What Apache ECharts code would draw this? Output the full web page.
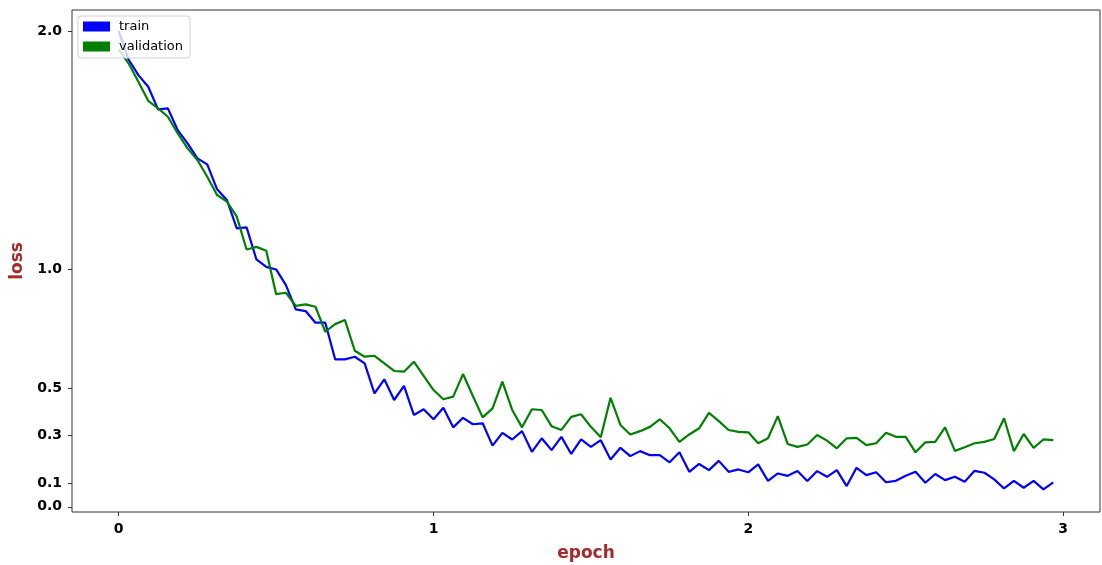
<!DOCTYPE html>
<html>
<head>
<meta charset="utf-8">
<script src="https://cdn.jsdelivr.net/npm/echarts@6/dist/echarts.min.js"></script>
<style>
  html, body { margin: 0; padding: 0; background: #fff; }
  #chart { width: 1102px; height: 565px; }
</style>
</head>
<body>
<div id="chart"></div>
<script>
// 32 steps per epoch, 3 epochs
var stepsPerEpoch = 32;
var trainLoss = [
    2.000, 1.881, 1.815, 1.766, 1.671, 1.675, 1.584, 1.528, 1.465, 1.440,
    1.335, 1.290, 1.171, 1.175, 1.040, 1.009, 0.998, 0.932, 0.830, 0.823,
    0.774, 0.774, 0.620, 0.620, 0.631, 0.603, 0.477, 0.536, 0.449, 0.508,
    0.386, 0.410, 0.368, 0.416, 0.334, 0.374, 0.347, 0.351, 0.257, 0.311,
    0.283, 0.318, 0.231, 0.288, 0.238, 0.294, 0.222, 0.283, 0.252, 0.280,
    0.199, 0.248, 0.213, 0.234, 0.217, 0.217, 0.187, 0.229, 0.147, 0.180,
    0.154, 0.193, 0.147, 0.157, 0.145, 0.178, 0.109, 0.140, 0.130, 0.150,
    0.108, 0.150, 0.126, 0.154, 0.087, 0.164, 0.133, 0.145, 0.103, 0.109,
    0.130, 0.147, 0.101, 0.138, 0.112, 0.126, 0.105, 0.151, 0.143, 0.115,
    0.077, 0.109, 0.080, 0.109, 0.073, 0.103
];
var valLoss = [
    1.923, 1.865, 1.787, 1.707, 1.675, 1.640, 1.570, 1.507, 1.458, 1.388,
    1.311, 1.283, 1.220, 1.082, 1.093, 1.077, 0.894, 0.900, 0.845, 0.851,
    0.841, 0.736, 0.768, 0.785, 0.656, 0.631, 0.635, 0.603, 0.571, 0.568,
    0.610, 0.550, 0.491, 0.452, 0.463, 0.558, 0.466, 0.376, 0.414, 0.526,
    0.407, 0.334, 0.410, 0.407, 0.339, 0.323, 0.378, 0.389, 0.336, 0.292,
    0.458, 0.344, 0.304, 0.318, 0.336, 0.368, 0.330, 0.273, 0.304, 0.330,
    0.395, 0.360, 0.323, 0.315, 0.313, 0.267, 0.288, 0.381, 0.264, 0.252,
    0.262, 0.302, 0.278, 0.246, 0.288, 0.290, 0.259, 0.267, 0.311, 0.294,
    0.294, 0.229, 0.271, 0.273, 0.334, 0.235, 0.250, 0.267, 0.273, 0.285,
    0.372, 0.234, 0.306, 0.248, 0.283, 0.280
];
var xTicks = [0, 1, 2, 3];
var yTicks = [0.0, 0.1, 0.3, 0.5, 1.0, 2.0];

function toPoints(arr) {
    var out = [];
    for (var i = 0; i < arr.length; i++) {
        out.push([i / stepsPerEpoch, arr[i]]);
    }
    return out;
}

var myChart = echarts.init(document.getElementById('chart'), null, {renderer: 'canvas'});
var tickLabel = {
    fontFamily: 'DejaVu Sans',
    fontWeight: 'bold',
    fontSize: 14,
    color: '#000'
};
var option = {
    animation: false,
    backgroundColor: '#fff',
    grid: {
        left: 72, top: 10, right: 2, bottom: 53,
        outerBoundsMode: 'none',
        containLabel: false,
        show: true, borderColor: '#333', borderWidth: 1, backgroundColor: '#fff'
    },
    legend: {
        orient: 'vertical',
        left: 78, top: 16,
        padding: [4, 7, 5, 5],
        itemWidth: 27, itemHeight: 10, itemGap: 7,
        backgroundColor: 'rgba(255,255,255,0.8)',
        borderColor: '#d0d0d0', borderWidth: 1, borderRadius: 3,
        textStyle: {fontFamily: 'DejaVu Sans', fontSize: 13, color: '#000', padding: [0, 0, 0, 4]},
        data: [
            {name: 'train', icon: 'rect', itemStyle: {color: '#0000ff'}},
            {name: 'validation', icon: 'rect', itemStyle: {color: '#008000'}}
        ]
    },
    xAxis: {
        type: 'value',
        min: -0.1484, max: 3.1172,
        name: 'epoch', nameLocation: 'middle', nameGap: 33,
        nameTextStyle: {fontFamily: 'DejaVu Sans', fontWeight: 'bold', fontSize: 17, color: '#a52a2a'},
        axisLine: {show: false, onZero: false},
        axisTick: {show: true, length: 4, lineStyle: {color: '#333'}, customValues: xTicks},
        axisLabel: Object.assign({margin: 10, customValues: xTicks}, tickLabel),
        splitLine: {show: false}
    },
    yAxis: {
        type: 'value',
        min: -0.022, max: 2.089,
        name: 'loss', nameLocation: 'middle', nameGap: 44, nameRotate: 90,
        nameTextStyle: {fontFamily: 'DejaVu Sans', fontWeight: 'bold', fontSize: 17, color: '#a52a2a'},
        axisLine: {show: false, onZero: false},
        axisTick: {show: true, length: 4, lineStyle: {color: '#333'}, customValues: yTicks},
        axisLabel: Object.assign({
            margin: 10,
            customValues: yTicks,
            formatter: function (v) { return v.toFixed(1); }
        }, tickLabel),
        splitLine: {show: false}
    },
    series: [
        {
            name: 'train', type: 'line', showSymbol: false,
            lineStyle: {color: '#0000ff', width: 2.2},
            itemStyle: {color: '#0000ff'},
            data: toPoints(trainLoss)
        },
        {
            name: 'validation', type: 'line', showSymbol: false,
            lineStyle: {color: '#008000', width: 2.2},
            itemStyle: {color: '#008000'},
            data: toPoints(valLoss)
        }
    ]
};
myChart.setOption(option);
</script>
</body>
</html>
